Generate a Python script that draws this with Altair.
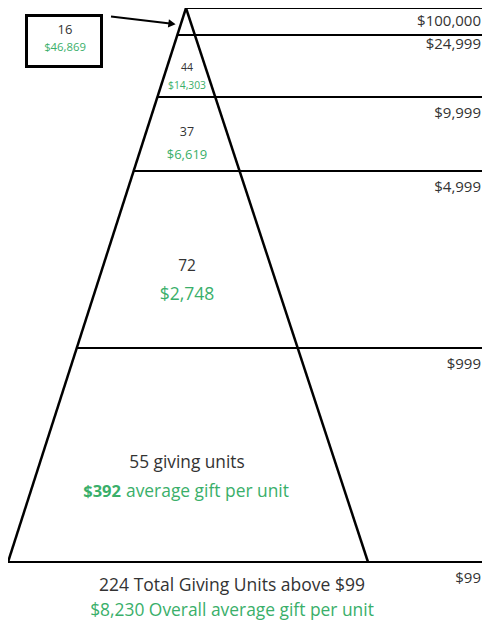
import altair as alt
import pandas as pd

# ---- data ----
threshold_labels = ["$100,000", "$24,999", "$9,999", "$4,999", "$999", "$99"]
tier_counts = [16, 44, 37, 72, 55]
tier_avgs = ["$46,869", "$14,303", "$6,619", "$2,748", "$392"]
total_units = 224
overall_avg = "$8,230"

# ---- layout (page pixel coordinates) ----
boundary_y = [8, 35, 97, 171, 348, 562]
apex = (186, 8)
base_left = (8, 562)
base_right = (368, 562)
right_end = 482

def left_x(y):
    t = (y - apex[1]) / (base_left[1] - apex[1])
    return apex[0] + t * (base_left[0] - apex[0])

X = alt.Scale(domain=[8, 482], nice=False, zero=False)
Y = alt.Scale(domain=[8, 621], nice=False, zero=False, reverse=True)

def enc(**kw):
    out = {}
    for k, v in kw.items():
        if k in ("x", "x2"):
            out[k] = alt.X(v + ":Q", scale=X, axis=None) if k == "x" else alt.X2(v)
        elif k in ("y", "y2"):
            out[k] = alt.Y(v + ":Q", scale=Y, axis=None) if k == "y" else alt.Y2(v)
        else:
            out[k] = v
    return out

# horizontal threshold lines
hlines = pd.DataFrame({
    "x": [left_x(y) for y in boundary_y],
    "x2": [right_end] * len(boundary_y),
    "y": boundary_y,
    "y2": boundary_y,
})
hlines.loc[0, "x"] = apex[0]
hlines.loc[len(boundary_y) - 1, "x"] = base_left[0]

sides = pd.DataFrame({
    "x": [apex[0], apex[0]],
    "y": [apex[1], apex[1]],
    "x2": [base_left[0], base_right[0]],
    "y2": [base_left[1], base_right[1]],
})

h_layer = alt.Chart(hlines).mark_rule(color="black", strokeWidth=2.2).encode(
    **enc(x="x", x2="x2", y="y", y2="y2"))
s_layer = alt.Chart(sides).mark_rule(color="black", strokeWidth=2.5).encode(
    **enc(x="x", x2="x2", y="y", y2="y2"))

# callout box + arrow
box = pd.DataFrame({"x": [26.5], "x2": [101.5], "y": [15.5], "y2": [66.5]})
box_layer = alt.Chart(box).mark_rect(fill="white", fillOpacity=0, stroke="black",
                                     strokeWidth=3).encode(**enc(x="x", x2="x2", y="y", y2="y2"))
arrow = pd.DataFrame({"x": [111], "y": [16.5], "x2": [170], "y2": [23.5]})
arrow_layer = alt.Chart(arrow).mark_rule(color="black", strokeWidth=2).encode(
    **enc(x="x", x2="x2", y="y", y2="y2"))
head = pd.DataFrame({"x": [172], "y": [23.8]})
head_layer = alt.Chart(head).mark_point(shape="triangle-right", filled=True, color="black",
                                        size=70, angle=7, opacity=1).encode(**enc(x="x", y="y"))

# texts
DARK = "#333333"
GREEN = "#3aaf6a"
center_texts = pd.DataFrame([
    {"x": 65, "y": 30, "text": str(tier_counts[0]), "size": 13, "color": DARK},
    {"x": 65, "y": 48, "text": tier_avgs[0], "size": 11.3, "color": GREEN},
    {"x": 187, "y": 68, "text": str(tier_counts[1]), "size": 10.5, "color": DARK},
    {"x": 187, "y": 86, "text": tier_avgs[1], "size": 10.3, "color": GREEN},
    {"x": 187, "y": 132, "text": str(tier_counts[2]), "size": 12.5, "color": DARK},
    {"x": 187, "y": 155, "text": tier_avgs[2], "size": 13, "color": GREEN},
    {"x": 187, "y": 266, "text": str(tier_counts[3]), "size": 15.5, "color": DARK},
    {"x": 187, "y": 295, "text": tier_avgs[3], "size": 17.5, "color": GREEN},
    {"x": 187, "y": 463, "text": f"{tier_counts[4]} giving units", "size": 17.3, "color": DARK},
    {"x": 232, "y": 586, "text": f"{total_units} Total Giving Units above {threshold_labels[-1]}",
     "size": 17.5, "color": DARK},
])
bottom_texts = pd.DataFrame([
    {"x": 232, "y": 616, "text": f"{overall_avg} Overall average gift per unit", "size": 17.4,
     "color": GREEN},
])
right_texts = pd.DataFrame({
    "x": [481] * len(threshold_labels),
    "y": [21, 44, 113, 187, 364, 578],
    "text": threshold_labels,
    "size": [15] * len(threshold_labels),
    "color": [DARK] * len(threshold_labels),
})
bold_texts = pd.DataFrame([{"x": 121, "y": 492, "text": tier_avgs[4], "size": 16.5, "color": GREEN}])
left_texts = pd.DataFrame([{"x": 126, "y": 492, "text": "average gift per unit", "size": 17.4,
                            "color": GREEN}])

FONT = "Open Sans"

def text_layer(df, align, weight="normal", baseline="middle"):
    return alt.Chart(df).mark_text(align=align, baseline=baseline, font=FONT,
                                   fontWeight=weight).encode(
        **enc(x="x", y="y"),
        text="text:N",
        size=alt.Size("size:Q", scale=None),
        color=alt.Color("color:N", scale=None),
    )

chart = alt.layer(
    h_layer, s_layer, box_layer, arrow_layer, head_layer,
    text_layer(center_texts, "center"),
    text_layer(bottom_texts, "center", baseline="alphabetic"),
    text_layer(right_texts, "right"),
    text_layer(bold_texts, "right", "bold"),
    text_layer(left_texts, "left"),
).properties(width=474, height=613, padding=0,
             autosize=alt.AutoSizeParams(type="none")).configure_view(stroke=None)

chart.save("out.html", embed_options={"renderer": "svg", "actions": False})
